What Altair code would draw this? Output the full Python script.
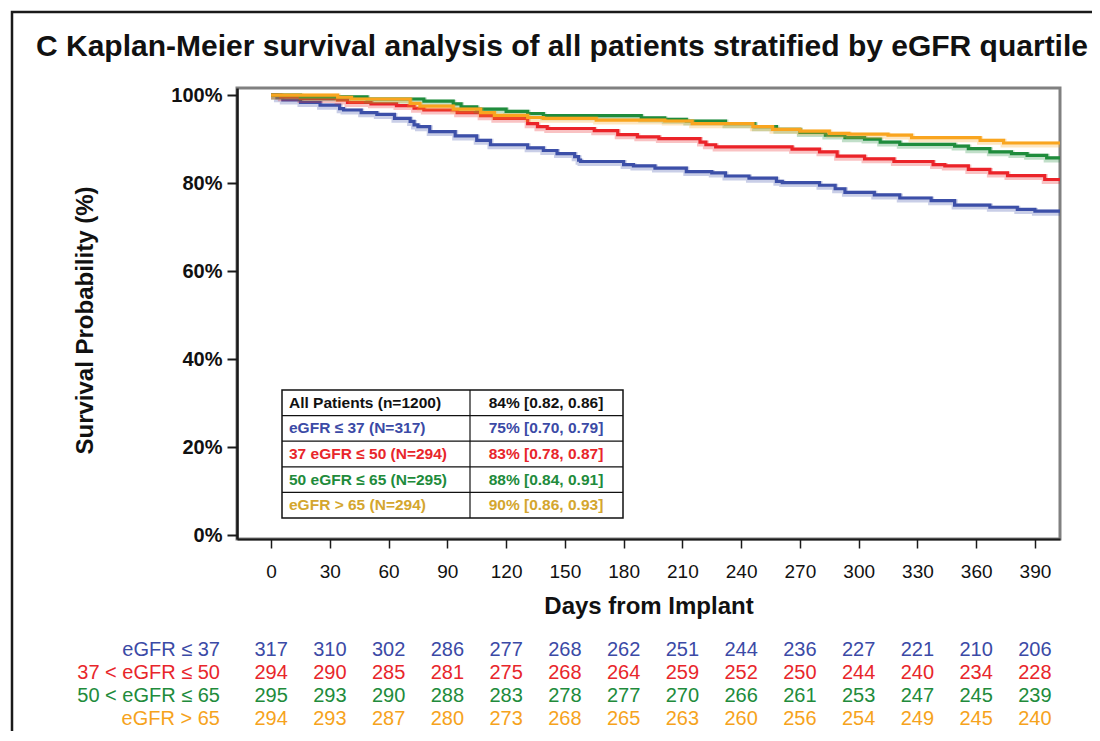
import altair as alt
import pandas as pd

SANS = "Liberation Sans, Arial, Helvetica, sans-serif"

title_text = "C Kaplan-Meier survival analysis of all patients stratified by eGFR quartile"

groups = ["eGFR ≤ 37", "37 < eGFR ≤ 50", "50 < eGFR ≤ 65", "eGFR > 65"]
line_colors = ["#3c4fa8", "#eb2329", "#1f8c3c", "#f9a51f"]
text_colors = ["#3b4aa6", "#e8262b", "#218b3b", "#f6a31c"]

blue_days = [0, 3, 6, 15, 25, 35, 37, 46, 54, 63, 71, 73, 75, 81, 94, 105, 112, 131, 139, 146,
             155, 157, 158, 180, 185, 196, 212, 225, 232, 244, 258, 261, 280, 288, 293, 308,
             321, 337, 349, 367, 381, 390, 403]
blue_surv = [100, 99.4, 98.9, 98.3, 97.7, 96.9, 96.6, 96.0, 95.6, 94.7, 94.0, 93.2, 92.8, 91.7,
             90.7, 89.7, 88.7, 88.0, 87.4, 86.7, 86.0, 85.2, 84.9, 84.2, 83.9, 83.4, 82.6, 82.3,
             81.6, 81.1, 80.4, 80.1, 79.5, 78.7, 77.9, 77.3, 76.6, 76.0, 75.0, 74.5, 74.0, 73.6,
             73.6]

red_days = [0, 5, 15, 34, 39, 51, 64, 73, 78, 95, 107, 114, 131, 136, 141, 165, 177, 187, 198,
            219, 222, 227, 266, 280, 289, 303, 318, 338, 344, 356, 367, 376, 395, 403]
red_surv = [100, 99.6, 99.2, 98.9, 98.3, 98.0, 97.6, 97.0, 96.6, 96.0, 95.3, 94.7, 93.5, 92.8,
            92.4, 91.9, 91.0, 90.5, 90.1, 89.3, 88.7, 88.2, 87.7, 87.1, 86.1, 85.5, 84.9, 84.2,
            83.9, 83.1, 82.3, 81.7, 80.8, 80.8]

green_days = [0, 15, 49, 78, 93, 97, 105, 120, 131, 139, 189, 201, 212, 232, 247, 258, 270, 283,
              293, 303, 311, 321, 349, 356, 367, 378, 386, 396, 403]
green_surv = [100, 99.6, 99.1, 98.6, 98.0, 97.3, 96.8, 96.3, 95.8, 95.3, 94.8, 94.5, 94.1, 93.5,
              92.8, 92.2, 91.5, 90.9, 90.3, 90.0, 89.3, 88.8, 88.4, 87.8, 87.1, 86.7, 86.3, 85.7,
              85.7]

orange_days = [0, 34, 41, 71, 76, 93, 107, 114, 131, 139, 166, 201, 215, 246, 256, 270, 285, 295,
               315, 327, 362, 374, 403]
orange_surv = [100, 99.5, 99.1, 98.1, 97.5, 96.8, 96.0, 95.4, 94.9, 94.7, 94.3, 94.1, 93.5, 92.8,
               92.2, 91.8, 91.3, 91.1, 90.9, 90.3, 89.7, 89.1, 89.1]

risk_days = [0, 30, 60, 90, 120, 150, 180, 210, 240, 270, 300, 330, 360, 390]
risk_blue = [317, 310, 302, 286, 277, 268, 262, 251, 244, 236, 227, 221, 210, 206]
risk_red = [294, 290, 285, 281, 275, 268, 264, 259, 252, 250, 244, 240, 234, 228]
risk_green = [295, 293, 290, 288, 283, 278, 277, 270, 266, 261, 253, 247, 245, 239]
risk_orange = [294, 293, 287, 280, 273, 268, 265, 263, 260, 256, 254, 249, 245, 240]

inset_left = ["All Patients (n=1200)", "eGFR ≤ 37 (N=317)", "37 eGFR ≤ 50 (N=294)",
              "50 eGFR ≤ 65 (N=295)", "eGFR > 65 (N=294)"]
inset_right = ["84% [0.82, 0.86]", "75% [0.70, 0.79]", "83% [0.78, 0.87]",
               "88% [0.84, 0.91]", "90% [0.86, 0.93]"]
inset_colors = ["#111111", "#3b4aa6", "#e8262b", "#218b3b", "#d4a62e"]

x_ticks = list(range(0, 391, 30))
y_ticks = [0, 20, 40, 60, 80, 100]

W, H = 823, 451

x_scale = alt.Scale(domain=[-17.4, 402.8], nice=False, zero=False)
y_scale = alt.Scale(domain=[-0.9, 101.6], nice=False, zero=False)

x_axis = alt.Axis(values=x_ticks, title="Days from Implant", grid=False,
                  domainColor="#1a1a1a", domainWidth=2, tickColor="#1a1a1a", tickWidth=1.5,
                  tickSize=9, labelFont=SANS, labelFontSize=19, labelColor="#111111",
                  labelPadding=14, labelFlush=False, titleFont=SANS, titleFontSize=24,
                  titleFontWeight="bold", titleColor="#111111", titleX=W / 2, titleY=67,
                  titleBaseline="middle", titleAlign="center")
y_axis = alt.Axis(values=y_ticks, labelExpr="datum.value + '%'", title="Survival Probability (%)",
                  grid=False, domainColor="#1a1a1a", domainWidth=2.5, tickColor="#1a1a1a",
                  tickWidth=2, tickSize=10, labelFont=SANS, labelFontSize=20,
                  labelFontWeight="bold", labelColor="#111111", labelPadding=5,
                  titleFont=SANS, titleFontSize=24, titleFontWeight="bold", titleColor="#111111",
                  titleX=-152, titleY=232, titleAngle=270, titleBaseline="middle",
                  titleAlign="center")

series = [(blue_days, blue_surv), (red_days, red_surv), (green_days, green_surv),
          (orange_days, orange_surv)]

curve_layers = []
for (d, s), g, c in zip(series, groups, line_colors):
    df = pd.DataFrame({"group": g, "day": d, "surv": s})
    base = alt.Chart(df).encode(
        x=alt.X("day:Q", scale=x_scale, axis=x_axis),
        y=alt.Y("surv:Q", scale=y_scale, axis=y_axis),
    )
    curve_layers.append(base.mark_line(interpolate="step-after", strokeWidth=6, opacity=0.28,
                                       yOffset=1.5, color=c, clip=True))
    curve_layers.append(base.mark_line(interpolate="step-after", strokeWidth=3.2, color=c,
                                       clip=True))
curves = alt.layer(*curve_layers)

# number at risk table
risk_rows = []
for g, vals in zip(groups, [risk_blue, risk_red, risk_green, risk_orange]):
    for dd, n in zip(risk_days, vals):
        risk_rows.append({"group": g, "day": dd, "n": n})
risk_df = pd.DataFrame(risk_rows)
risk_y = alt.Y("group:N", scale=alt.Scale(type="point", domain=groups, range=[562, 631],
                                          padding=0), axis=None)
risk_color = alt.Color("group:N", scale=alt.Scale(domain=groups, range=text_colors), legend=None)
risk_nums = alt.Chart(risk_df).mark_text(font=SANS, fontSize=20, baseline="middle",
                                         align="center").encode(
    x=alt.X("day:Q", scale=x_scale, axis=x_axis), y=risk_y, color=risk_color, text="n:Q")
risk_labels = alt.Chart(pd.DataFrame({"group": groups})).mark_text(
    font=SANS, fontSize=20, baseline="middle", align="right").encode(
    x=alt.value(-17), y=risk_y, color=risk_color, text="group:N")
risk = alt.layer(risk_nums, risk_labels)

# inset table
one = pd.DataFrame({"a": [0]})
box = alt.Chart(one).mark_rect(fill="white", stroke="#111111", strokeWidth=1.5).encode(
    x=alt.value(45), x2=alt.value(386), y=alt.value(302), y2=alt.value(430))
dividers = [alt.Chart(one).mark_rule(color="#111111", strokeWidth=1.2).encode(
    x=alt.value(45), x2=alt.value(386), y=alt.value(yy)) for yy in [327.6, 353.2, 378.8, 404.4]]
vdiv = alt.Chart(one).mark_rule(color="#111111", strokeWidth=1.2).encode(
    x=alt.value(233), y=alt.value(302), y2=alt.value(430))
inset_df = pd.DataFrame({"row": list(range(5)), "left": inset_left, "right": inset_right,
                         "color": inset_colors})
inset_y = alt.Y("row:O", scale=alt.Scale(type="point", domain=list(range(5)),
                                         range=[314.8, 417.2], padding=0), axis=None)
inset_l = alt.Chart(inset_df).mark_text(font=SANS, fontWeight="bold", fontSize=15.5,
                                        align="left", baseline="middle").encode(
    x=alt.value(52), y=inset_y, color=alt.Color("color:N", scale=None), text="left:N")
inset_r = alt.Chart(inset_df).mark_text(font=SANS, fontWeight="bold", fontSize=15.5,
                                        align="center", baseline="middle").encode(
    x=alt.value(309), y=inset_y, color=alt.Color("color:N", scale=None), text="right:N")
inset = alt.layer(box, *dividers, vdiv, inset_l, inset_r)

border = alt.Chart(one).mark_rect(filled=False, stroke="#1a1a1a", strokeWidth=2.5).encode(
    x=alt.value(-225), x2=alt.value(900), y=alt.value(-76), y2=alt.value(700))
title = alt.Chart(pd.DataFrame({"t": [title_text]})).mark_text(
    font=SANS, fontWeight="bold", fontSize=30, align="left", baseline="middle",
    color="#111111").encode(x=alt.value(-201), y=alt.value(-41), text="t:N")

chart = alt.layer(border, curves, inset, risk, title).resolve_scale(
    y="independent", color="independent"
).properties(
    width=W, height=H,
    autosize=alt.AutoSizeParams(type="none"),
    padding={"left": 229, "top": 80, "right": 32, "bottom": 192},
    background="white",
).configure_view(stroke="#808080", strokeWidth=3)

chart.save("out.html", embed_options={"renderer": "svg", "actions": False})
